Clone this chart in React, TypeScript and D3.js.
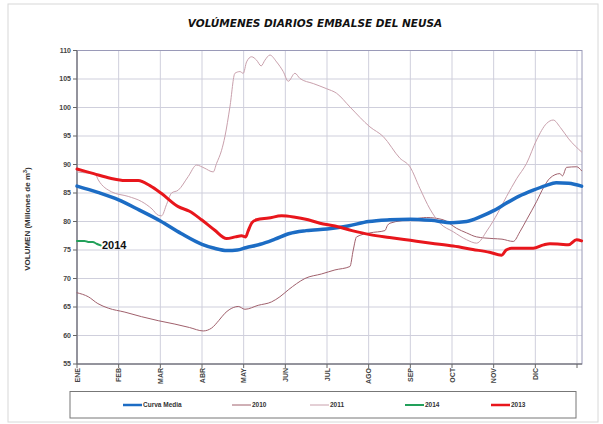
import React from "react";
import * as d3 from "d3";

// month index (0 = 1 ENE) , volume in millions of m3
const months = ["ENE", "FEB", "MAR", "ABR", "MAY", "JUN", "JUL", "AGO", "SEP", "OCT", "NOV", "DIC"];
const yTicks = [55, 60, 65, 70, 75, 80, 85, 90, 95, 100, 105, 110];

const curvaMedia: [number, number][] = [
  [0, 86.2], [0.5, 85.1], [1, 83.8], [1.5, 82.0], [2, 80.1], [2.5, 77.9], [3, 76.0], [3.3, 75.3],
  [3.6, 74.9], [3.85, 75.0], [4.05, 75.4], [4.4, 76.0], [4.75, 76.9], [5.1, 77.9], [5.5, 78.4],
  [6, 78.7], [6.5, 79.2], [7, 80.0], [7.5, 80.3], [8, 80.4], [8.5, 80.2], [9, 79.8], [9.35, 80.0],
  [9.7, 80.9], [10, 81.9], [10.3, 83.2], [10.6, 84.4], [10.95, 85.5], [11.25, 86.3], [11.5, 86.8],
  [11.8, 86.7], [12.11, 86.2],
];

const y2010: [number, number][] = [
  [0, 67.5], [0.27, 66.8], [0.5, 65.6], [0.75, 64.8], [1.15, 64.1], [1.55, 63.3], [1.95, 62.6],
  [2.35, 62.0], [2.7, 61.4], [3.03, 60.8], [3.23, 61.3], [3.4, 62.6], [3.55, 63.9], [3.75, 64.9],
  [3.87, 65.1], [4.03, 64.6], [4.35, 65.3], [4.67, 65.9], [4.87, 66.8], [5.07, 68.0], [5.27, 69.1],
  [5.47, 70.0], [5.87, 70.8], [6.19, 71.5], [6.55, 72.1], [6.63, 75.0], [6.71, 77.3], [7.03, 78.0],
  [7.39, 78.4], [7.45, 79.3], [7.51, 79.7], [8.07, 80.4], [8.39, 80.7], [8.79, 80.3], [9.11, 78.8],
  [9.35, 78.0], [9.59, 77.3], [9.99, 77.0], [10.2, 76.9], [10.47, 76.5], [10.63, 78.2], [10.79, 80.3],
  [11.03, 83.5], [11.2, 86.0], [11.35, 87.6], [11.59, 88.4], [11.65, 88.0], [11.75, 89.5],
  [11.99, 89.6], [12.11, 88.9],
];

const y2011: [number, number][] = [
  [0, 88.7], [0.25, 88.5], [0.43, 88.4], [0.51, 87.3], [0.83, 85.2], [1.23, 84.4], [1.55, 83.5],
  [1.8, 82.2], [1.95, 81.1], [2.03, 81.0], [2.15, 83.0], [2.27, 85.0], [2.43, 85.5], [2.67, 87.9],
  [2.87, 89.9], [3.05, 89.4], [3.27, 88.7], [3.35, 90.2], [3.47, 92.5], [3.55, 94.9], [3.67, 100.1],
  [3.79, 106.0], [3.91, 106.3], [3.99, 106.0], [4.07, 108.0], [4.19, 108.9], [4.31, 108.3],
  [4.42, 107.3], [4.51, 108.3], [4.63, 109.2], [4.79, 108.0], [4.95, 106.3], [5.07, 104.6],
  [5.23, 106.0], [5.35, 105.1], [5.67, 104.2], [5.99, 103.3], [6.23, 102.5], [6.55, 100.1],
  [7.03, 96.6], [7.35, 94.9], [7.75, 91.1], [7.99, 89.6], [8.23, 85.8], [8.47, 82.2], [8.71, 79.7],
  [9.03, 78.2], [9.35, 76.8], [9.59, 76.2], [9.85, 78.5], [10.1, 81.5], [10.31, 84.4], [10.55, 87.5],
  [10.79, 90.2], [11.03, 94.3], [11.27, 97.2], [11.43, 97.8], [11.6, 96.5], [11.8, 94.5], [12.11, 92.2],
];

const y2014: [number, number][] = [
  [0, 76.6], [0.18, 76.6], [0.27, 76.4], [0.38, 76.4], [0.47, 76.1], [0.57, 75.8],
];

const y2013: [number, number][] = [
  [0, 89.2], [0.4, 88.4], [0.8, 87.6], [1.15, 87.2], [1.47, 87.2], [1.75, 86.3], [2.03, 84.9],
  [2.43, 82.6], [2.7, 81.8], [2.99, 80.3], [3.3, 78.5], [3.59, 77.0], [3.8, 77.3], [3.95, 77.5],
  [4.05, 77.3], [4.1, 78.2], [4.2, 79.8], [4.31, 80.3], [4.6, 80.6], [4.91, 81.0], [5.2, 80.8],
  [5.55, 80.3], [5.83, 79.7], [6.19, 79.2], [6.6, 78.4], [7.03, 77.7], [7.5, 77.2], [8, 76.7],
  [8.5, 76.2], [9.03, 75.7], [9.5, 75.1], [9.9, 74.6], [10.19, 74.1], [10.3, 75.0], [10.43, 75.3],
  [10.95, 75.3], [11.2, 75.9], [11.35, 76.1], [11.6, 76.0], [11.79, 75.9], [11.99, 76.8], [12.11, 76.6],
];

const series = [
  { name: "Curva Media", data: curvaMedia, color: "#1c6cc4", width: 3.5 },
  { name: "2010", data: y2010, color: "#a0606c", width: 1 },
  { name: "2011", data: y2011, color: "#c9a0ac", width: 1 },
  { name: "2014", data: y2014, color: "#22a05a", width: 2 },
  { name: "2013", data: y2013, color: "#e8161c", width: 3 },
];
const drawOrder = ["2010", "2011", "Curva Media", "2014", "2013"];
const legendX = [123, 232, 310, 405, 491];

const W = 603;
const H = 424;
const left = 77;
const right = 582;
const top = 50.5;
const bottom = 364;
const lbl = "'Liberation Sans', Arial, sans-serif";

export default function App() {
  const x = d3.scaleLinear().domain([0, 12.12]).range([left, right]);
  const y = d3.scaleLinear().domain([55, 110]).range([bottom, top]);
  const line = d3
    .line<[number, number]>()
    .x((d) => x(d[0]))
    .y((d) => y(d[1]))
    .curve(d3.curveMonotoneX);
  const monthTicks = d3.range(0, 13);

  return (
    <svg width={W} height={H} style={{ position: "absolute", left: 0, top: 0, background: "#fff" }}>
      <rect x={8} y={4} width={590} height={418} fill="#fff" stroke="#d8d8d8" />
      <text x={315} y={27} textAnchor="middle" fontFamily="'DejaVu Sans', Verdana, sans-serif"
        fontSize={10.5} fontWeight="bold" fontStyle="italic" fill="#111">
        VOLÚMENES DIARIOS EMBALSE DEL NEUSA
      </text>

      {/* grid */}
      {yTicks.map((t) => (
        <line key={"gy" + t} x1={left} x2={right} y1={y(t)} y2={y(t)} stroke="#cfcfdc" strokeWidth={1} />
      ))}
      {monthTicks.map((m) => (
        <line key={"gx" + m} x1={x(m)} x2={x(m)} y1={top} y2={bottom} stroke="#cfcfdc" strokeWidth={1} />
      ))}
      <rect x={left} y={top} width={right - left} height={bottom - top} fill="none" stroke="#9a9ab8" />

      {/* axes */}
      <line x1={left} x2={left} y1={top} y2={bottom} stroke="#666" />
      <line x1={left} x2={right} y1={bottom} y2={bottom} stroke="#666" />
      {yTicks.map((t) => (
        <g key={"ty" + t}>
          <line x1={left - 4} x2={left} y1={y(t)} y2={y(t)} stroke="#666" />
          <text x={left - 6} y={y(t)} dy="0.35em" textAnchor="end" fontFamily={lbl} fontSize={7}
            fontWeight="bold" fill="#444">{t}</text>
        </g>
      ))}
      {monthTicks.map((m) => (
        <g key={"tx" + m}>
          <line x1={x(m)} x2={x(m)} y1={bottom} y2={bottom + 4} stroke="#666" />
          {m < 12 && (
            <text transform={`translate(${x(m)},${bottom + 4}) rotate(-90)`} textAnchor="end"
              dominantBaseline="central" fontFamily={lbl} fontSize={7} fontWeight="bold" fill="#444">
              {months[m]}
            </text>
          )}
        </g>
      ))}
      <text transform={`translate(30,219) rotate(-90)`} textAnchor="middle" fontFamily={lbl}
        fontSize={8} fontWeight="bold" fill="#333">
        VOLUMEN (Millones de m<tspan dy={-3} fontSize={5.5}>3</tspan><tspan dy={3}>)</tspan>
      </text>

      {/* series */}
      {drawOrder.map((n) => {
        const s = series.find((d) => d.name === n)!;
        return (
          <path key={n} d={line(s.data) || ""} fill="none" stroke={s.color} strokeWidth={s.width}
            strokeLinejoin="round" strokeLinecap="round" />
        );
      })}
      <text x={x(0.6)} y={y(75.8)} dy="0.35em" fontFamily={lbl} fontSize={11} fontWeight="bold" fill="#111">
        2014
      </text>

      {/* legend */}
      <rect x={70} y={391.5} width={506} height={26.5} fill="#fff" stroke="#777" />
      {series.map((s, i) => (
        <g key={"lg" + s.name}>
          <line x1={legendX[i]} x2={legendX[i] + 19} y1={405} y2={405} stroke={s.color}
            strokeWidth={Math.min(s.width, 2.5)} />
          <text x={legendX[i] + 20} y={405} dy="0.35em" fontFamily={lbl} fontSize={6.5}
            fontWeight="bold" fill="#333">{s.name}</text>
        </g>
      ))}
    </svg>
  );
}
